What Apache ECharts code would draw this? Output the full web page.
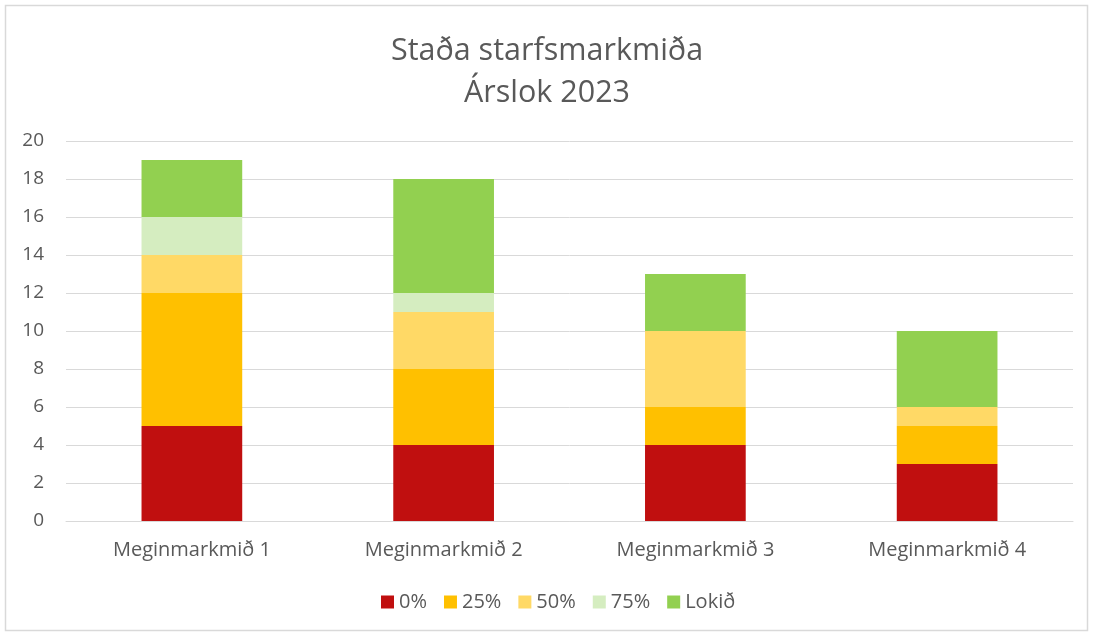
<!DOCTYPE html>
<html><head><meta charset="utf-8">
<script src="https://cdn.jsdelivr.net/npm/echarts@6/dist/echarts.min.js"></script>
<style>html,body{margin:0;padding:0;background:#fff}#c{width:1094px;height:636px}</style>
</head><body><div id="c"></div>
<script>
const categories = ['Meginmarkmið 1','Meginmarkmið 2','Meginmarkmið 3','Meginmarkmið 4'];
const seriesNames = ['0%','25%','50%','75%','Lokið'];
const v0 = [5,4,4,3];
const v25 = [7,4,2,2];
const v50 = [2,3,4,1];
const v75 = [2,1,0,0];
const vDone = [3,6,3,4];
const yTicks = {min:0, max:20, interval:2};
const colors = ['#C00F0F','#FFC000','#FFD966','#D5EDC0','#92D050'];
const values = [v0,v25,v50,v75,vDone];
const font = '"Open Sans", sans-serif';
const chart = echarts.init(document.getElementById('c'));
chart.setOption({
  animation:false,
  backgroundColor:'#fff',
  textStyle:{fontFamily:font},
  graphic:[{type:'rect',shape:{x:5.5,y:5.5,width:1082,height:625},style:{fill:'none',stroke:'#d9d9d9',lineWidth:1.5}}],
  title:{text:'Staða starfsmarkmiða\nÁrslok 2023',left:'center',top:25,
    textStyle:{fontFamily:font,fontSize:30.5,fontWeight:'normal',color:'#595959',lineHeight:42}},
  legend:{bottom:19,left:376,itemWidth:13,itemHeight:13,itemGap:17,icon:'rect',
    textStyle:{fontFamily:font,fontSize:20,color:'#595959'},data:seriesNames},
  grid:{left:66,right:21,top:141,bottom:115,containLabel:false},
  xAxis:{type:'category',data:categories,
    axisLine:{lineStyle:{color:'#d9d9d9',width:1}},axisTick:{show:false},
    axisLabel:{fontFamily:font,fontSize:20,color:'#595959',margin:19}},
  yAxis:{type:'value',min:yTicks.min,max:yTicks.max,interval:yTicks.interval,
    axisLine:{show:false},axisTick:{show:false},
    splitLine:{lineStyle:{color:'#d9d9d9',width:1}},
    axisLabel:{fontFamily:font,fontSize:19,color:'#595959',margin:22}},
  series: seriesNames.map((n,i)=>({name:n,type:'bar',stack:'s',barWidth:'40%',
    itemStyle:{color:colors[i]},data:values[i]}))
});
</script></body></html>
